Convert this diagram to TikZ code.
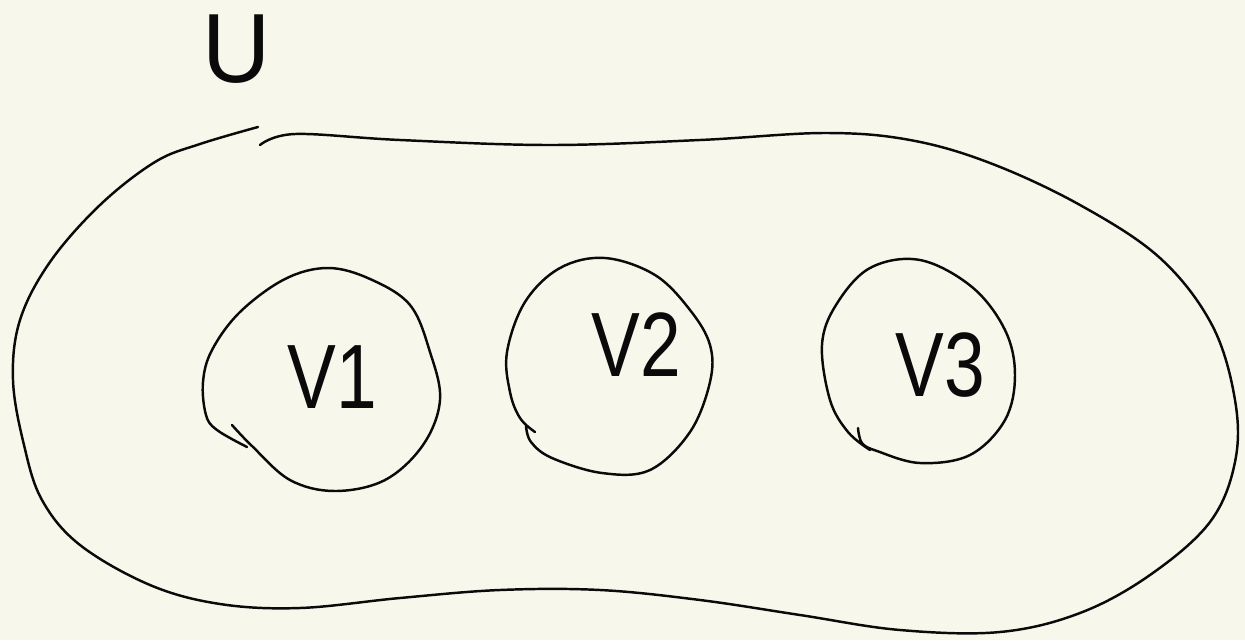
\documentclass[tikz,border=0pt]{standalone}
\usepackage{fontspec}
\setmainfont{Liberation Sans}
\definecolor{cpaper}{RGB}{248,247,236}
\definecolor{cink}{RGB}{10,10,10}

\begin{document}
\begin{tikzpicture}[x=0.02cm,y=-0.02cm,
    pen/.style={cink,line width=1.4pt,line cap=round,line join=round},
    hand/.style={cink,font=\fontsize{52}{52}\selectfont,xscale=0.8,transform shape,inner sep=0pt}]
  % paper
  \fill[cpaper] (0,0) rectangle (1245,640);
  \useasboundingbox (0,0) rectangle (1245,640);
  % outer set U (open at top left)
  \draw[pen] plot[smooth,tension=0.6] coordinates {
     (260,145) (295,134) (400,140) (550,145) (700,140) (825,133) (910,140)
     (990,163) (1080,205) (1160,258) (1212,325) (1235,400) (1235,462)
     (1210,522) (1150,575) (1080,613) (1000,632) (900,630) (800,615)
     (700,600) (600,590) (500,590) (400,598) (300,608) (220,604) (150,585)
     (80,545) (42,500) (24,445) (13,380) (20,320) (50,262) (100,205)
     (155,162) (200,144) (258,127)};
  \node[hand,font=\fontsize{56}{56}\selectfont,xscale=1.2,anchor=base] (U) at (237,82) {U};
  % V1
  \draw[pen] plot[smooth,tension=0.6] coordinates {
     (232,425) (252,446) (290,480) (335,491) (385,480) (423,445) (440,400)
     (430,352) (410,305) (370,279) (328,268) (285,279) (240,312) (212,350)
     (203,382) (206,415) (217,430) (247,447)};
  \node[hand] (v1) at (332,377) {V1};
  % V2
  \draw[pen] plot[smooth,tension=0.6] coordinates {
     (526,426) (531,442) (552,458) (602,473) (650,470) (690,432) (710,382)
     (710,345) (690,310) (655,275) (605,258) (560,268) (525,302) (507,352)
     (510,392) (520,418) (535,432)};
  \node[hand] (v2) at (636,345) {V2};
  % V3
  \draw[pen] plot[smooth,tension=0.6] coordinates {
     (858,428) (862,443) (877,451) (920,463) (970,455) (1005,420)
     (1015,375) (1005,330) (972,287) (920,260) (870,268) (836,305)
     (822,345) (830,400) (848,432) (870,450)};
  \node[hand] (v3) at (940,365) {V3};
\end{tikzpicture}
\end{document}
